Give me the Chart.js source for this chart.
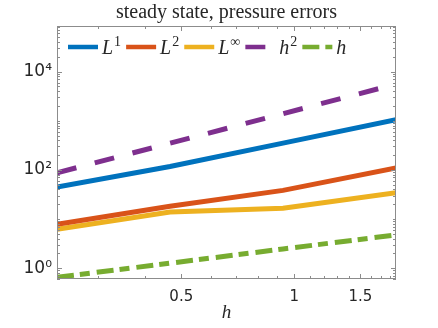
<!DOCTYPE html>
<html>
<head>
<meta charset="utf-8">
<script src="https://cdn.jsdelivr.net/npm/chart.js@4.4.1/dist/chart.umd.min.js"></script>
<style>
  html, body { margin: 0; padding: 0; background: #fff; }
  #contenedor { width: 438px; height: 328px; }
</style>
</head>
<body>
<div id="contenedor"><canvas id="grafico"></canvas></div>
<script>
// datos
const valoresH = [0.2333, 0.4667, 0.9333, 1.8667];
const errorL1 = [44.6, 117, 351, 1052];
const errorL2 = [7.8, 18.1, 38.2, 110];
const errorLinf = [6.2, 13.9, 16.5, 34.3];
const refH2 = [87.3, 349, 1394, 5575];
const refH = [0.65, 1.26, 2.45, 4.75];

const ticksX = [0.5, 1, 1.5];
const ticksY = [1, 100, 10000];
const etiquetasY = ['10⁰', '10²', '10⁴'];
const menoresX = [0.3, 0.4, 0.6, 0.7, 0.8, 0.9, 1.1, 1.2, 1.3, 1.4, 1.6, 1.7, 1.8];

const colorEje = '#8c8c8c';
const colorTexto = '#262626';

function puntos(ys) {
    return valoresH.map((x, i) => ({ x: x, y: ys[i] }));
}

// caja, marcas hacia adentro (estilo matlab)
const cajaPlugin = {
    id: 'caja',
    afterDatasetsDraw(chart) {
        const c = chart.ctx;
        const a = chart.chartArea;
        const sx = chart.scales.x, sy = chart.scales.y;
        c.save();
        c.strokeStyle = colorEje;
        c.lineWidth = 1;
        c.strokeRect(a.left + 0.5, a.top + 0.5, a.right - a.left - 1, a.bottom - a.top - 1);
        c.beginPath();
        // eje y
        for (let k = -1; k <= 5; k++) {
            for (let d = 1; d <= 9; d++) {
                const v = d * Math.pow(10, k);
                if (v < sy.min || v > sy.max) continue;
                const y = Math.round(sy.getPixelForValue(v)) + 0.5;
                const len = (d === 1 && k % 2 === 0) ? 5 : 3;
                c.moveTo(a.left, y); c.lineTo(a.left + len, y);
                c.moveTo(a.right, y); c.lineTo(a.right - len, y);
            }
        }
        // eje x
        ticksX.concat(menoresX).forEach(v => {
            const x = Math.round(sx.getPixelForValue(v)) + 0.5;
            const len = ticksX.includes(v) ? 5 : 3;
            c.moveTo(x, a.bottom); c.lineTo(x, a.bottom - len);
            c.moveTo(x, a.top); c.lineTo(x, a.top + len);
        });
        c.stroke();
        c.restore();
    }
};

// leyenda dentro del area
const leyendaPlugin = {
    id: 'leyendaInterna',
    afterDatasetsDraw(chart) {
        const c = chart.ctx;
        const a = chart.chartArea;
        let x = a.left + 11;
        const y = a.top + 21;
        c.save();
        chart.data.datasets.forEach(ds => {
            c.strokeStyle = ds.borderColor;
            c.lineWidth = 4.5;
            c.lineCap = 'butt';
            c.setLineDash(ds.borderDash || []);
            c.beginPath();
            c.moveTo(x, y); c.lineTo(x + 30, y);
            c.stroke();
            c.setLineDash([]);
            x += 34;
            const partes = ds.label.split('^');
            c.fillStyle = colorTexto;
            c.textBaseline = 'alphabetic';
            c.font = 'italic 20px "Liberation Serif"';
            c.fillText(partes[0], x, y + 7);
            x += c.measureText(partes[0]).width + 1;
            if (partes[1]) {
                c.font = '14px "Liberation Serif"';
                c.fillText(partes[1], x, y - 1);
                x += c.measureText(partes[1]).width;
            }
            x += 5;
        });
        c.restore();
    }
};

const tituloPlugin = {
    id: 'tituloArriba',
    afterDraw(chart) {
        const c = chart.ctx;
        const a = chart.chartArea;
        c.save();
        c.fillStyle = colorTexto;
        c.font = '20px "Liberation Serif"';
        c.textAlign = 'center';
        c.textBaseline = 'middle';
        c.fillText('steady state, pressure errors', (a.left + a.right) / 2, 13);
        c.restore();
    }
};

const ctx = document.getElementById('grafico').getContext('2d');
const grafico = new Chart(ctx, {
    type: 'line',
    data: {
        datasets: [
            { label: 'L^1', data: puntos(errorL1), borderColor: '#0072BD' },
            { label: 'L^2', data: puntos(errorL2), borderColor: '#D95319' },
            { label: 'L^∞', data: puntos(errorLinf), borderColor: '#EDB120' },
            { label: 'h^2', data: puntos(refH2), borderColor: '#7E2F8E', borderDash: [20, 19] },
            { label: 'h', data: puntos(refH), borderColor: '#77AC30', borderDash: [17, 6, 10, 7] }
        ]
    },
    options: {
        responsive: true,
        maintainAspectRatio: false,
        animation: false,
        devicePixelRatio: 1,
        layout: { padding: { top: 26, right: 42, left: 0, bottom: 0 } },
        datasets: {
            line: { borderWidth: 5, pointRadius: 0, tension: 0, clip: 0, fill: false }
        },
        plugins: {
            legend: { display: false },
            title: { display: false },
            tooltip: { enabled: false }
        },
        scales: {
            x: {
                type: 'logarithmic',
                min: 0.2333,
                max: 1.8667,
                afterBuildTicks: s => { s.ticks = ticksX.map(v => ({ value: v })); },
                afterFit: s => { s.height = 49; },
                grid: { display: false, drawTicks: false },
                border: { display: false },
                ticks: {
                    color: colorTexto,
                    font: { family: 'DejaVu Sans', size: 15 },
                    padding: 9,
                    maxRotation: 0,
                    autoSkip: false,
                    callback: v => String(v)
                },
                title: {
                    display: true,
                    text: 'h',
                    color: colorTexto,
                    font: { family: 'Liberation Serif', size: 19, style: 'italic' },
                    padding: { top: 0, bottom: 4 }
                }
            },
            y: {
                type: 'logarithmic',
                min: 0.63,
                max: 85000,
                afterBuildTicks: s => { s.ticks = ticksY.map(v => ({ value: v })); },
                afterFit: s => { s.width = 57; },
                grid: { display: false, drawTicks: false },
                border: { display: false },
                ticks: {
                    color: colorTexto,
                    font: { family: 'DejaVu Sans', size: 17 },
                    padding: 5,
                    autoSkip: false,
                    callback: (v, i) => etiquetasY[i]
                }
            }
        }
    },
    plugins: [cajaPlugin, leyendaPlugin, tituloPlugin]
});
</script>
</body>
</html>
